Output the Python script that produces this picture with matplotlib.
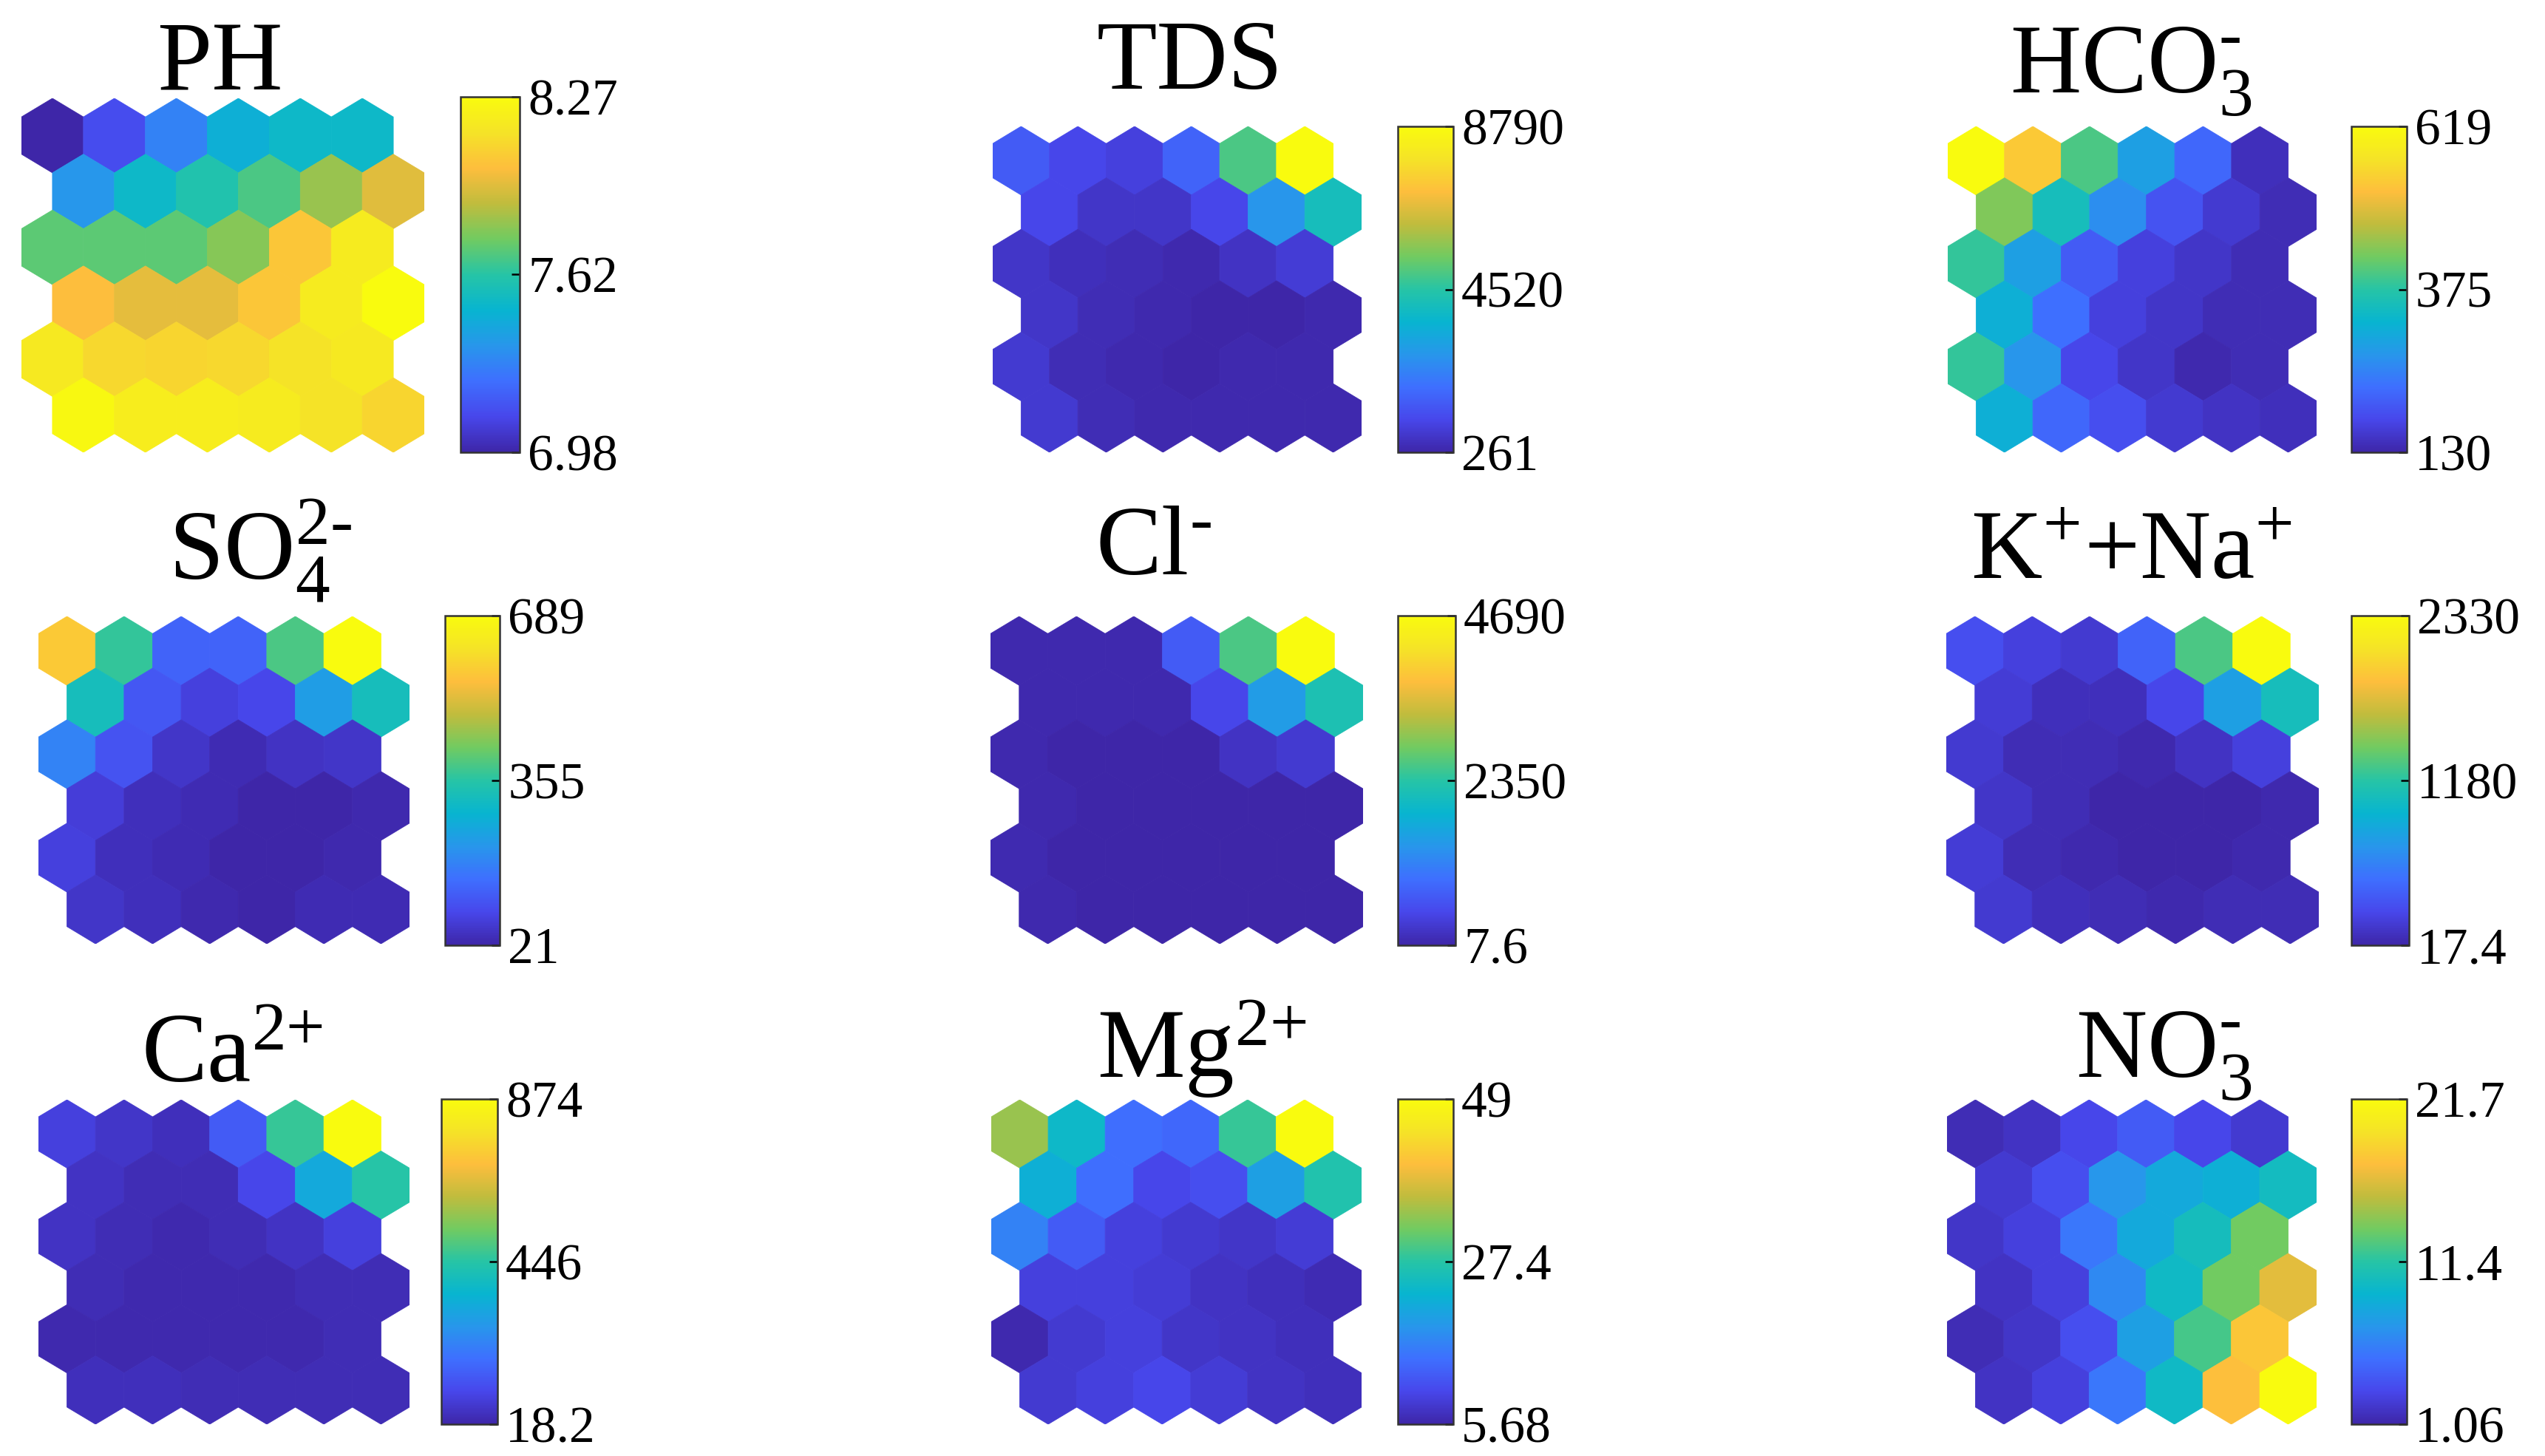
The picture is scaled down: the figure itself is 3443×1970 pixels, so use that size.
import numpy as np
import matplotlib
matplotlib.use('Agg')
import matplotlib.pyplot as plt
from matplotlib.colors import LinearSegmentedColormap, Normalize
from matplotlib.patches import RegularPolygon
from matplotlib.collections import PatchCollection

plt.rcParams['font.family'] = ['Liberation Serif', 'DejaVu Serif']
plt.rcParams['mathtext.fontset'] = 'custom'
plt.rcParams['mathtext.rm'] = 'Liberation Serif'
plt.rcParams['mathtext.it'] = 'Liberation Serif:italic'
plt.rcParams['mathtext.bf'] = 'Liberation Serif:bold'

# --- SOM component planes, 6x6 hex grid, row 0 = top ---
ph = [[6.98, 7.13, 7.30, 7.47, 7.52, 7.52],
      [7.37, 7.52, 7.60, 7.69, 7.82, 7.95],
      [7.72, 7.72, 7.72, 7.79, 8.04, 8.18],
      [8.01, 7.96, 7.96, 8.04, 8.18, 8.27],
      [8.17, 8.10, 8.09, 8.10, 8.14, 8.17],
      [8.25, 8.19, 8.19, 8.18, 8.14, 8.09]]
tds = [[1540, 1110, 940, 1710, 4950, 8790],
       [1110, 690, 690, 1110, 2820, 4100],
       [690, 520, 430, 350, 600, 860],
       [690, 430, 350, 261, 261, 350],
       [770, 430, 350, 261, 350, 350],
       [770, 430, 350, 350, 350, 350]]
hco3 = [[619, 536, 399, 291, 218, 145],
        [433, 350, 267, 194, 159, 140],
        [384, 291, 203, 169, 154, 140],
        [316, 228, 169, 154, 140, 140],
        [384, 277, 179, 154, 135, 140],
        [316, 218, 189, 159, 150, 145]]
so4 = [[575, 368, 135, 135, 388, 689],
       [322, 115, 75, 88, 235, 322],
       [188, 108, 54, 34, 48, 54],
       [68, 41, 34, 21, 21, 28],
       [75, 41, 34, 21, 21, 28],
       [54, 41, 28, 21, 34, 34]]
cl = [[55, 55, 55, 710, 2580, 4690],
      [55, 55, 55, 476, 1506, 2210],
      [55, 7.6, 7.6, 7.6, 195, 289],
      [55, 7.6, 7.6, 7.6, 7.6, 7.6],
      [70, 7.6, 7.6, 7.6, 7.6, 7.6],
      [55, 7.6, 7.6, 7.6, 7.6, 7.6]]
kna = [[295, 203, 156, 410, 1290, 2330],
       [180, 87, 87, 249, 780, 1060],
       [156, 64, 64, 41, 110, 203],
       [133, 64, 17.4, 17.4, 17.4, 41],
       [180, 64, 41, 17.4, 17.4, 41],
       [156, 87, 64, 41, 64, 64]]
ca = [[87, 61, 44, 147, 463, 874],
      [52, 35, 35, 104, 326, 446],
      [52, 35, 27, 35, 52, 87],
      [35, 27, 27, 27, 35, 35],
      [27, 27, 27, 27, 27, 35],
      [44, 44, 35, 35, 35, 35]]
mg = [[33.8, 23.9, 14.3, 13.5, 28.2, 49.0],
      [22.1, 14.3, 10.0, 10.9, 20.0, 26.5],
      [16.5, 12.2, 9.1, 8.3, 7.8, 8.7],
      [9.1, 9.1, 8.7, 7.4, 7.0, 6.5],
      [6.1, 8.3, 9.1, 7.8, 7.4, 7.0],
      [8.3, 9.1, 10.0, 8.7, 7.4, 7.0]]
no3 = [[1.5, 1.9, 3.1, 4.2, 3.1, 2.3],
       [2.3, 3.5, 7.3, 8.5, 8.9, 10.1],
       [2.1, 2.7, 5.6, 8.5, 10.3, 13.4],
       [1.9, 2.7, 6.6, 9.9, 13.4, 16.7],
       [1.5, 2.1, 3.5, 7.9, 12.2, 18.0],
       [1.9, 2.7, 5.6, 9.9, 17.6, 21.7]]

planes = [ph, tds, hco3, so4, cl, kna, ca, mg, no3]
titles = ['PH', 'TDS', '$\\mathrm{HCO_3^{\u2010}}$',
          '$\\mathrm{SO_4^{2\u2010}}$', '$\\mathrm{Cl^{\u2010}}$', '$\\mathrm{K^{{+}}{+}Na^{{+}}}$',
          '$\\mathrm{Ca^{2{+}}}$', '$\\mathrm{Mg^{2{+}}}$', '$\\mathrm{NO_3^{\u2010}}$']
vmins = [6.98, 261, 130, 21, 7.6, 17.4, 18.2, 5.68, 1.06]
vmaxs = [8.27, 8790, 619, 689, 4690, 2330, 874, 49, 21.7]
tick_labels = [['6.98', '7.62', '8.27'], ['261', '4520', '8790'], ['130', '375', '619'],
               ['21', '355', '689'], ['7.6', '2350', '4690'], ['17.4', '1180', '2330'],
               ['18.2', '446', '874'], ['5.68', '27.4', '49'], ['1.06', '11.4', '21.7']]

# approximate MATLAB parula
parula_pts = [(0.2422, 0.1504, 0.6603), (0.2803, 0.2782, 0.9221), (0.2440, 0.4358, 0.9988),
              (0.1540, 0.5902, 0.9218), (0.0297, 0.7082, 0.8163), (0.1500, 0.7700, 0.6500),
              (0.4420, 0.7951, 0.3808), (0.7525, 0.7384, 0.2400), (0.9932, 0.7439, 0.2393),
              (0.9610, 0.8890, 0.1537), (0.9763, 0.9831, 0.0538)]
parula = LinearSegmentedColormap.from_list('parula', parula_pts)

W, H = 3443, 1970
fig = plt.figure(figsize=(W / 100, H / 100), dpi=100)

# pixel boxes (left, top, right, bottom)
hex_boxes = [(29, 133, 574, 612), (1343, 171, 1842, 612), (2635, 171, 3134, 612),
             (52, 834, 554, 1277), (1340, 834, 1844, 1277), (2633, 834, 3137, 1277),
             (52, 1488, 554, 1927), (1341, 1488, 1842, 1927), (2634, 1488, 3134, 1927)]
cbar_boxes = [(623, 131, 703, 612), (1891, 171, 1966, 612), (3181, 171, 3256, 612),
              (602, 833, 676, 1279), (1891, 833, 1969, 1279), (3181, 833, 3259, 1279),
              (597, 1487, 673, 1927), (1891, 1487, 1966, 1927), (3181, 1487, 3256, 1927)]
title_pos = [(297, 122), (1610, 120), (2883, 126),
             (352, 783), (1560, 777), (2884, 783),
             (314, 1464), (1626, 1458), (2927, 1458)]


def px_rect(box):
    l, t, r, b = box
    return [l / W, 1 - b / H, (r - l) / W, (b - t) / H]


hex_r = 1 / np.sqrt(3)
row_step = 1.5 * hex_r

for i, vals in enumerate(planes):
    vals = np.array(vals, dtype=float)
    ax = fig.add_axes(px_rect(hex_boxes[i]))
    patches, colors = [], []
    for r in range(vals.shape[0]):
        for c in range(vals.shape[1]):
            x = c + 0.5 * (r % 2)
            y = -r * row_step
            patches.append(RegularPolygon((x, y), numVertices=6, radius=hex_r))
            colors.append(vals[r, c])
    norm = Normalize(vmin=vmins[i], vmax=vmaxs[i])
    coll = PatchCollection(patches, cmap=parula, norm=norm, edgecolor='face', linewidth=0.6)
    coll.set_array(np.array(colors))
    ax.add_collection(coll)
    ax.set_xlim(-0.5, 6.0)
    ax.set_ylim(-5 * row_step - hex_r, hex_r)
    ax.set_aspect('auto')
    ax.axis('off')

    cax = fig.add_axes(px_rect(cbar_boxes[i]))
    mid = (vmins[i] + vmaxs[i]) / 2
    cb = fig.colorbar(coll, cax=cax, ticks=[vmins[i], mid, vmaxs[i]])
    cb.set_ticklabels(tick_labels[i])
    cb.outline.set_edgecolor('#333333')
    cb.outline.set_linewidth(1.8)
    cax.tick_params(direction='in', length=8, width=1.8, pad=8, labelsize=50, colors='black')

    tx, ty = title_pos[i]
    fig.text(tx / W, 1 - ty / H, titles[i], ha='center', va='baseline', fontsize=96)

fig.savefig('out.png', dpi=100, facecolor='white')
